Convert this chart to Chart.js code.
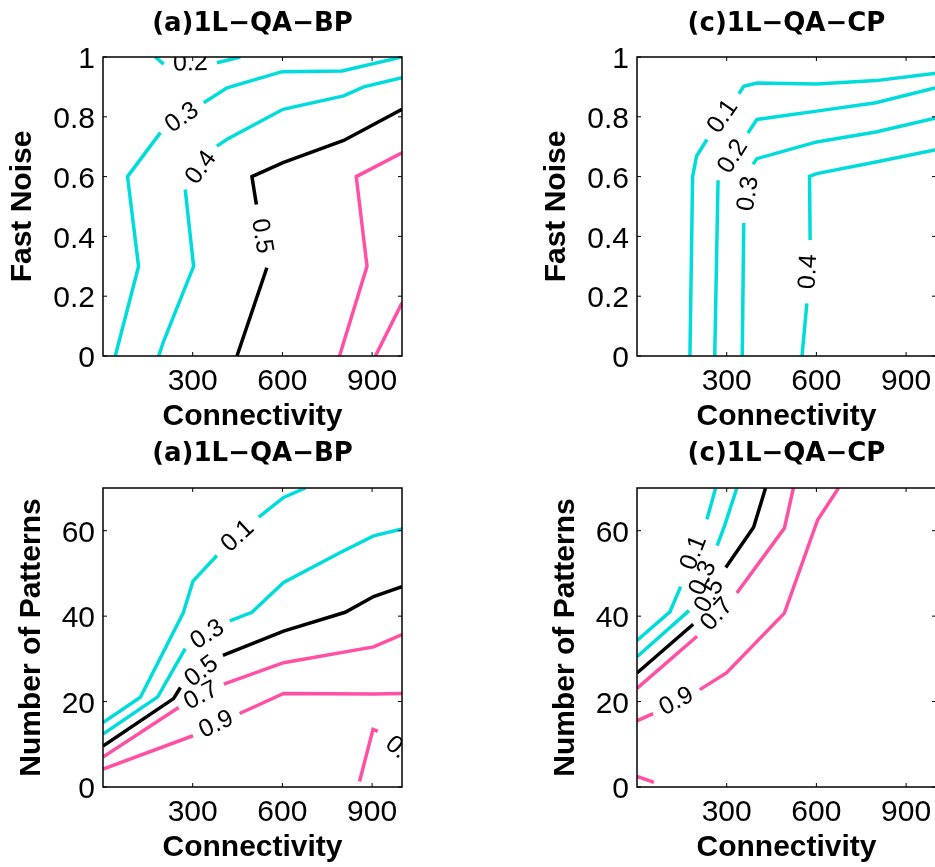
<!DOCTYPE html>
<html lang="en">
<head>
  <meta charset="UTF-8" />
  <title>Recall contours: connectivity vs noise and load</title>
  <script src="https://cdn.jsdelivr.net/npm/chart.js"></script>
  <style>
    html, body {
      margin: 0;
      padding: 0;
      background: #fff;
      overflow: hidden;
      width: 935px;
      height: 867px;
    }
    canvas.panel {
      position: absolute;
    }
  </style>
</head>
<body>
  <canvas id="bpNoise" class="panel" width="470" height="432" style="left:0;top:0"></canvas>
  <canvas id="cpNoise" class="panel" width="470" height="432" style="left:534px;top:0"></canvas>
  <canvas id="bpPatterns" class="panel" width="470" height="432" style="left:0;top:431px"></canvas>
  <canvas id="cpPatterns" class="panel" width="470" height="432" style="left:534px;top:431px"></canvas>

  <script>
    // shared axes
    const connectivityTicks = [300, 600, 900];
    const noiseTicks = [0, 0.2, 0.4, 0.6, 0.8, 1];
    const patternTicks = [0, 20, 40, 60];

    // contour lines are [connectivity, value] vertices; null marks where the level label sits

    // 1L-QA-BP, fast noise
    const bpNoiseLevels = [0.2, 0.3, 0.4, 0.5, 0.6, 0.7];
    const bpNoiseLines = [
      [[175, 1.0], [203, 0.976], null, [381, 0.981], [459, 1.0]],
      [[41, 0], [119, 0.3], [82, 0.6], [192, 0.747], null, [337, 0.847], [415, 0.897], [599, 0.951], [799, 0.953], [1000, 1.0]],
      [[186, 0], [203, 0.05], [303, 0.3], [275, 0.557], null, [381, 0.702], [415, 0.725], [602, 0.825], [805, 0.87], [872, 0.9], [1000, 0.931]],
      [[448, 0], [548, 0.295], null, [513, 0.507], [498, 0.6], [602, 0.647], [805, 0.721], [1000, 0.825]],
      [[791, 0], [883, 0.3], [847, 0.6], [1000, 0.68]],
      [[911, 0], [1000, 0.178]]
    ];

    // 1L-QA-CP, fast noise
    const cpNoiseLevels = [0.1, 0.2, 0.3, 0.4];
    const cpNoiseLines = [
      [[177, 0], [186, 0.6], [199, 0.668], [234, 0.724], null, [341, 0.877], [357, 0.902], [401, 0.913], [601, 0.91], [799, 0.921], [1000, 0.946]],
      [[260, 0], [271, 0.588], null, [371, 0.746], [401, 0.791], [601, 0.819], [799, 0.847], [1000, 0.897]],
      [[352, 0], [357, 0.445], null, [388, 0.641], [401, 0.66], [601, 0.716], [799, 0.749], [1000, 0.796]],
      [[552, 0], [568, 0.176], null, [579, 0.388], [577, 0.601], [601, 0.61], [799, 0.649], [1000, 0.69]]
    ];

    // 1L-QA-BP, number of patterns
    const bpPatternLevels = [0.1, 0.3, 0.5, 0.7, 0.9, 0.9];
    const bpPatternLines = [
      [[0, 15.1], [125, 21.0], [268, 40.7], [301, 48.2], [381, 54.2], null, [521, 63.2], [604, 67.8], [677, 70]],
      [[0, 12.4], [183, 21.1], [275, 32.4], null, [424, 38.9], [498, 40.9], [604, 47.9], [794, 54.9], [905, 58.8], [1000, 60.4]],
      [[0, 9.6], [236, 20.7], [259, 23.3], null, [401, 30.8], [604, 36.5], [810, 40.9], [905, 44.6], [1000, 46.9]],
      [[0, 7.0], [253, 18.6], null, [404, 24.1], [604, 29.1], [905, 32.8], [1000, 35.7]],
      [[0, 4.2], [301, 12.0], null, [457, 17.2], [604, 21.9], [905, 21.8], [1000, 21.9]],
      [[858, 1.3], [903, 13.5], [919, 13.0], null, [1078, 3.3], [1120, 0]]
    ];

    // 1L-QA-CP, number of patterns
    const cpPatternLevels = [0.1, 0.3, 0.5, 0.7, 0.9, 0.9];
    const cpPatternLines = [
      [[0, 34.3], [110, 41.0], [146, 46.9], null, [234, 62.7], [263, 70]],
      [[0, 30.5], [174, 41.3], null, [268, 56.5], [293, 61.2], [334, 70]],
      [[0, 26.7], [188, 38.1], null, [297, 51.4], [390, 60.8], [430, 70]],
      [[0, 23.1], [201, 35.3], null, [334, 45.4], [493, 60.6], [523, 70]],
      [[0, 15.5], [54, 17.2], null, [210, 22.8], [299, 26.7], [493, 40.7], [604, 62.5], [674, 70]],
      [[0, 2.5], [57, 1.1]]
    ];

    const CYAN = '#00dcdc';
    const PINK = '#ff50a5';
    const SANS = '"Liberation Sans", Arial, Helvetica, sans-serif';

    function levelColor(level) {
      if (level < 0.5) return CYAN;
      if (level === 0.5) return '#000';
      return PINK;
    }

    // break a line at its label gaps
    function segments(pts) {
      const out = [[]];
      pts.forEach(p => {
        if (p) out[out.length - 1].push({ x: p[0], y: p[1] });
        else out.push([]);
      });
      return out;
    }

    // box round the axes with MATLAB style inward ticks
    const axesBox = {
      id: 'axesBox',
      afterDatasetsDraw(chart) {
        const { ctx, chartArea: a, scales: { x, y } } = chart;
        ctx.save();
        ctx.strokeStyle = '#000';
        ctx.lineWidth = 1;
        ctx.beginPath();
        x.ticks.forEach(t => {
          const px = x.getPixelForValue(t.value);
          ctx.moveTo(px, a.bottom); ctx.lineTo(px, a.bottom - 4);
          ctx.moveTo(px, a.top); ctx.lineTo(px, a.top + 4);
        });
        y.ticks.forEach(t => {
          const py = y.getPixelForValue(t.value);
          ctx.moveTo(a.left, py); ctx.lineTo(a.left + 4, py);
          ctx.moveTo(a.right, py); ctx.lineTo(a.right - 4, py);
        });
        ctx.stroke();
        ctx.lineWidth = 1.5;
        ctx.strokeRect(a.left, a.top, a.right - a.left, a.bottom - a.top);
        ctx.restore();
      }
    };

    // level labels, set into the gaps and turned along the line
    function levelLabels(levels, lines) {
      return {
        id: 'levelLabels',
        afterDraw(chart) {
          const { ctx, chartArea: a, scales: { x, y } } = chart;
          ctx.save();
          ctx.beginPath();
          ctx.rect(a.left, a.top, a.right - a.left, a.bottom - a.top);
          ctx.clip();
          ctx.font = '25px ' + SANS;
          ctx.fillStyle = '#000';
          ctx.textAlign = 'center';
          ctx.textBaseline = 'middle';
          lines.forEach((pts, i) => {
            pts.forEach((p, j) => {
              if (p !== null) return;
              const p0 = pts[j - 1], p1 = pts[j + 1];
              const x0 = x.getPixelForValue(p0[0]), y0 = y.getPixelForValue(p0[1]);
              const x1 = x.getPixelForValue(p1[0]), y1 = y.getPixelForValue(p1[1]);
              let ang = Math.atan2(y1 - y0, x1 - x0);
              if (ang > Math.PI / 2) ang -= Math.PI;
              else if (ang <= -Math.PI / 2) ang += Math.PI;
              ctx.save();
              ctx.translate((x0 + x1) / 2, (y0 + y1) / 2);
              ctx.rotate(ang);
              ctx.fillText(levels[i].toFixed(1), 0, 0);
              ctx.restore();
            });
          });
          ctx.restore();
        }
      };
    }

    function makePanel(id, cfg) {
      const datasets = [];
      cfg.lines.forEach((pts, i) => {
        segments(pts).forEach(seg => {
          datasets.push({
            data: seg,
            showLine: true,
            borderColor: levelColor(cfg.levels[i]),
            borderWidth: 3.5,
            pointRadius: 0,
            tension: 0,
            fill: false,
            clip: 0
          });
        });
      });

      return new Chart(document.getElementById(id), {
        type: 'scatter',
        data: { datasets },
        options: {
          responsive: false,
          animation: false,
          events: [],
          layout: { padding: { left: 0, top: 0, right: 68, bottom: 0 } },
          plugins: {
            legend: { display: false },
            tooltip: { enabled: false },
            title: {
              display: true,
              text: cfg.title,
              fullSize: false,
              color: '#000',
              font: { family: '"DejaVu Sans", sans-serif', weight: 'bold', size: 26, lineHeight: 1 },
              padding: cfg.titlePad
            }
          },
          scales: {
            x: {
              type: 'linear',
              min: 0,
              max: 1000,
              afterBuildTicks: s => { s.ticks = connectivityTicks.map(v => ({ value: v })); },
              afterFit: s => { s.height = 76; },
              grid: { display: false, drawTicks: false },
              border: { display: false },
              ticks: {
                color: '#000',
                padding: 8,
                maxRotation: 0,
                font: { family: SANS, size: 30 },
                callback: v => String(v)
              },
              title: {
                display: true,
                text: 'Connectivity',
                color: '#000',
                font: { family: SANS, size: 30, weight: 'bold', lineHeight: 1 },
                padding: { top: 0, bottom: 0 }
              }
            },
            y: {
              type: 'linear',
              min: 0,
              max: cfg.yMax,
              afterBuildTicks: s => { s.ticks = cfg.yTicks.map(v => ({ value: v })); },
              afterFit: s => { s.width = 103; },
              grid: { display: false, drawTicks: false },
              border: { display: false },
              ticks: {
                color: '#000',
                padding: 8,
                labelOffset: 3,
                font: { family: SANS, size: 30 },
                callback: v => String(v)
              },
              title: {
                display: true,
                text: cfg.yTitle,
                color: '#000',
                font: { family: SANS, size: 30, weight: 'bold', lineHeight: 1 },
                padding: { top: cfg.yTitlePad, bottom: 0 }
              }
            }
          }
        },
        plugins: [axesBox, levelLabels(cfg.levels, cfg.lines)]
      });
    }

    makePanel('bpNoise', {
      title: '(a)1L\u2212QA\u2212BP', yTitle: 'Fast Noise', yMax: 1, yTicks: noiseTicks,
      yTitlePad: 8, titlePad: { top: 11, bottom: 20 },
      levels: bpNoiseLevels, lines: bpNoiseLines
    });
    makePanel('cpNoise', {
      title: '(c)1L\u2212QA\u2212CP', yTitle: 'Fast Noise', yMax: 1, yTicks: noiseTicks,
      yTitlePad: 8, titlePad: { top: 11, bottom: 20 },
      levels: cpNoiseLevels, lines: cpNoiseLines
    });
    makePanel('bpPatterns', {
      title: '(a)1L\u2212QA\u2212BP', yTitle: 'Number of Patterns', yMax: 70, yTicks: patternTicks,
      yTitlePad: 17, titlePad: { top: 10, bottom: 21 },
      levels: bpPatternLevels, lines: bpPatternLines
    });
    makePanel('cpPatterns', {
      title: '(c)1L\u2212QA\u2212CP', yTitle: 'Number of Patterns', yMax: 70, yTicks: patternTicks,
      yTitlePad: 17, titlePad: { top: 10, bottom: 21 },
      levels: cpPatternLevels, lines: cpPatternLines
    });
  </script>
</body>
</html>
